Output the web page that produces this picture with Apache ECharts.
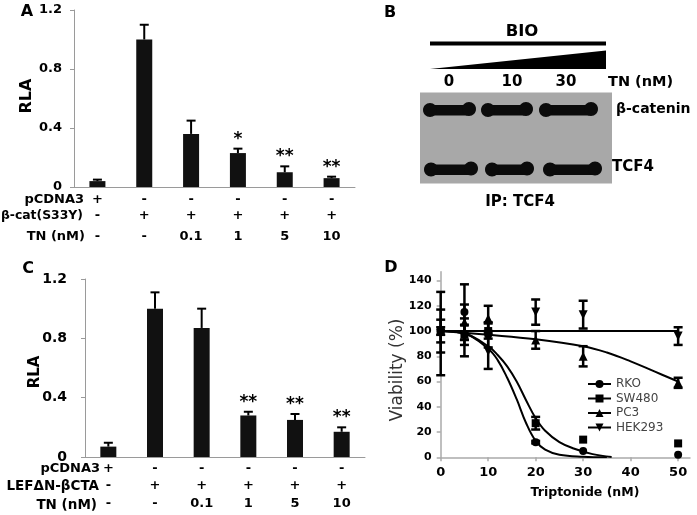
<!DOCTYPE html>
<html>
<head>
<meta charset="utf-8">
<script src="https://cdn.jsdelivr.net/npm/echarts@6/dist/echarts.min.js"></script>
<style>
html,body{margin:0;padding:0;background:#fff}
#main{width:697px;height:515px}
</style>
</head>
<body>
<div id="main"></div>
<script>
// A: RLA with beta-cat(S33Y)
var aRla = [0.04, 1.00, 0.36, 0.23, 0.10, 0.06];
var aErr = [0.01, 0.10, 0.09, 0.03, 0.04, 0.01];
var aSig = ['', '', '', '*', '**', '**'];
var aPcdna = ['+', '-', '-', '-', '-', '-'];
var aBcat = ['-', '+', '+', '+', '+', '+'];
var aTn = ['-', '-', '0.1', '1', '5', '10'];

// C: RLA with LEFdN-bCTA
var cRla = [0.07, 1.00, 0.87, 0.28, 0.25, 0.17];
var cErr = [0.026, 0.11, 0.13, 0.025, 0.04, 0.03];
var cSig = ['', '', '', '**', '**', '**'];
var cPcdna = ['+', '-', '-', '-', '-', '-'];
var cLef = ['-', '+', '+', '+', '+', '+'];
var cTn = ['-', '-', '0.1', '1', '5', '10'];

// B: blot lanes
var bioDoses = ['0', '10', '30'];

// D: viability
var dDose = [0, 5, 10, 20, 30, 50];
var rkoVia = [100, 115, 97, 12, 5, 2];
var rkoErr = [17, 22, 10, 1, 0, 0];
var swVia = [100, 97, 100, 27, 14, 11];
var swErr = [9, 8, 6, 5, 0, 0];
var pc3Via = [100, 107, 110, 93, 80, 59];
var pc3Err = [3, 14, 10, 7, 8, 4];
var hekVia = [98, 95, 84, 115, 113, 96];
var hekErr = [33, 15, 14, 10, 11, 7];

// fitted curves
var rkoFitX = [0, 5, 10, 12, 14, 16, 18, 20, 22, 25, 30, 35];
var rkoFitY = [100, 98, 86, 77, 63, 46, 27, 13, 6, 2, 0.4, 0];
var swFitX = [0, 5, 10, 12, 14, 16, 18, 20, 22, 25, 28, 32, 36];
var swFitY = [100, 98, 88, 81, 72, 60, 45, 31, 21, 12, 7, 2.5, 0.3];
var pc3FitX = [0, 10, 20, 30, 35, 40, 45, 50];
var pc3FitY = [100, 97, 93.5, 88, 83, 76, 68, 60];
var hekFitX = [0, 50];
var hekFitY = [100, 100];

function fb(s){ return 'bold ' + s + 'px "DejaVu Sans"'; }
function txt(x, y, s, font, align, rot, color){
	return {
		type: 'text', x: x, y: y, rotation: rot || 0,
		style: {
			text: s, font: font, fill: color || '#000',
			align: align || 'center', textAlign: align || 'center',
			verticalAlign: 'middle', textVerticalAlign: 'middle'
		}
	};
}
function pairs(xs, ys){
	return xs.map(function(x, i){ return [x, ys[i]]; });
}

// one-sided error bar + significance stars
function barErr(sig){
	return function(params, api){
		var i = api.value(0), v = api.value(1), e = api.value(2);
		var b = api.coord([i, v]), t = api.coord([i, v + e]);
		var ch = [
			{type:'line', shape:{x1:b[0], y1:b[1], x2:t[0], y2:t[1]}, style:{stroke:'#000', lineWidth:2}},
			{type:'line', shape:{x1:t[0]-4.5, y1:t[1], x2:t[0]+4.5, y2:t[1]}, style:{stroke:'#000', lineWidth:2}}
		];
		if (sig[params.dataIndex]) {
			ch.push({type:'text', style:{text:sig[params.dataIndex], x:t[0], y:t[1]-1,
				align:'center', textAlign:'center', verticalAlign:'bottom', textVerticalAlign:'bottom',
				font:fb(17), fill:'#000'}});
		}
		return {type:'group', children:ch};
	};
}
// symmetric error bar
function symErr(params, api){
	var x = api.value(0), v = api.value(1), e = api.value(2);
	if (!e) return;
	var lo = api.coord([x, v - e]), hi = api.coord([x, v + e]);
	var s = {stroke:'#000', lineWidth:2.5};
	return {type:'group', children:[
		{type:'line', shape:{x1:lo[0], y1:lo[1], x2:hi[0], y2:hi[1]}, style:s},
		{type:'line', shape:{x1:hi[0]-4.5, y1:hi[1], x2:hi[0]+4.5, y2:hi[1]}, style:s},
		{type:'line', shape:{x1:lo[0]-4.5, y1:lo[1], x2:lo[0]+4.5, y2:lo[1]}, style:s}
	]};
}
function errData(xs, ys, es){
	return xs.map(function(x, i){ return [x, ys[i], es[i]]; });
}

function rowLabels(r1, r2, r3, lh){
	var st = function(h){ return {fontFamily:'DejaVu Sans', fontWeight:'bold', fontSize:13, lineHeight:h, color:'#000'}; };
	return {
		interval: 0, margin: lh[3], color: '#000',
		formatter: function(v, i){
			return '{a|' + r1[i] + '}\n{b|' + r2[i] + '}\n{c|' + r3[i] + '}';
		},
		rich: {a: st(lh[0]), b: st(lh[1]), c: st(lh[2])}
	};
}

var grayAx = {lineStyle:{color:'#9a9a9a', width:1}};
var cats = [0, 1, 2, 3, 4, 5];

// blot bands
function band(x1, x2, cy){
	var st = {fill:'#0b0b0b'};
	return [
		{type:'rect', shape:{x:x1+5, y:cy-5, width:x2-x1-10, height:10.5, r:4}, style:st},
		{type:'ellipse', shape:{cx:x1+7, cy:cy, rx:7, ry:7}, style:st},
		{type:'ellipse', shape:{cx:x2-7, cy:cy-1, rx:7, ry:7}, style:st}
	];
}
var laneX = [[423, 476], [481, 533], [539, 598]];
var laneX2 = [[424, 478], [485, 534], [543, 602]];
var doseX = [449, 512, 566];

var graphics = [
	txt(27, 12, 'A', fb(16)),
	txt(27, 96, 'RLA', fb(16), 'center', Math.PI/2),
	txt(84, 200, 'pCDNA3', fb(13), 'right'),
	txt(83, 216, 'β-cat(S33Y)', fb(12.4), 'right'),
	txt(85, 237, 'TN (nM)', fb(13), 'right'),

	txt(390, 13, 'B', fb(16)),
	txt(522, 32, 'BIO', fb(16.5)),
	{type:'rect', shape:{x:430, y:41.5, width:176, height:4}, style:{fill:'#000'}},
	{type:'polygon', shape:{points:[[430, 69], [606, 69], [606, 50.5]]}, style:{fill:'#000'}},
	txt(608, 82, 'TN (nM)', fb(14.5), 'left'),
	{type:'rect', shape:{x:420, y:92.5, width:192, height:91}, style:{fill:'#a8a8a8'}},
	txt(616, 109, 'β-catenin', fb(14), 'left'),
	txt(612, 167, 'TCF4', fb(15), 'left'),
	txt(520, 202, 'IP: TCF4', fb(15)),

	txt(28, 269, 'C', fb(16)),
	txt(35, 372, 'RLA', fb(15), 'center', Math.PI/2),
	txt(100, 469, 'pCDNA3', fb(13), 'right'),
	txt(99, 486, 'LEFΔN-βCTA', fb(13.5), 'right'),
	txt(97, 505, 'TN (nM)', fb(13.5), 'right'),

	txt(391, 268, 'D', fb(16)),
	txt(398, 370, 'Viability (%)', '17px "DejaVu Sans"', 'center', Math.PI/2, '#333'),
	txt(585, 493, 'Triptonide (nM)', fb(12.5))
];
bioDoses.forEach(function(d, i){ graphics.push(txt(doseX[i], 82, d, fb(15))); });
laneX.forEach(function(l){ graphics = graphics.concat(band(l[0], l[1], 110)); });
laneX2.forEach(function(l){ graphics = graphics.concat(band(l[0], l[1], 169.5)); });

function fitLine(name, xs, ys, sym, rot){
	return {type:'line', name:name, xAxisIndex:2, yAxisIndex:2, data:pairs(xs, ys),
		smooth:0.4, showSymbol:false, symbol:sym, symbolRotate:rot || 0,
		lineStyle:{color:'#000', width:2}, itemStyle:{color:'#000'}};
}
function pts(xs, ys, sym, size, rot){
	return {type:'scatter', xAxisIndex:2, yAxisIndex:2, symbol:sym, symbolSize:size, symbolRotate:rot || 0,
		itemStyle:{color:'#000', opacity:1}, data:pairs(xs, ys), z:4};
}

var chart = echarts.init(document.getElementById('main'));
chart.setOption({
	animation: false,
	backgroundColor: '#fff',
	textStyle: {fontFamily: 'DejaVu Sans'},
	grid: [
		{left:74, top:10, width:281, height:177, outerBoundsMode:'none', containLabel:false},
		{left:85, top:279, width:280, height:178, outerBoundsMode:'none', containLabel:false},
		{left:440.7, top:271.7, width:249.3, height:185.6, outerBoundsMode:'none', containLabel:false}
	],
	xAxis: [
		{gridIndex:0, type:'category', data:cats, axisLine:grayAx,
			axisTick:{length:5, lineStyle:{color:'#9a9a9a'}},
			axisLabel: rowLabels(aPcdna, aBcat, aTn, [16, 16, 26, 5])},
		{gridIndex:1, type:'category', data:cats, axisLine:grayAx,
			axisTick:{length:5, lineStyle:{color:'#9a9a9a'}},
			axisLabel: rowLabels(cPcdna, cLef, cTn, [17, 17, 19, 3.5])},
		{gridIndex:2, type:'value', min:0, max:52.5, interval:10, splitLine:{show:false},
			axisLine:{lineStyle:{color:'#aaa', width:1.5}},
			axisTick:{length:4, customValues:[0, 10, 20, 30, 40, 50], lineStyle:{color:'#aaa', width:1.5}},
			axisLabel:{customValues:[0, 10, 20, 30, 40, 50], margin:9, color:'#000',
				fontFamily:'DejaVu Sans', fontWeight:'bold', fontSize:13}}
	],
	yAxis: [
		{gridIndex:0, type:'value', min:0, max:1.2, interval:0.4, splitLine:{show:false},
			axisLine:{show:true, lineStyle:{color:'#9a9a9a'}},
			axisTick:{show:true, length:4, lineStyle:{color:'#9a9a9a'}},
			axisLabel:{margin:12, color:'#000', fontFamily:'DejaVu Sans', fontWeight:'bold', fontSize:13}},
		{gridIndex:1, type:'value', min:0, max:1.2, interval:0.4, splitLine:{show:false},
			axisLine:{show:true, lineStyle:{color:'#9a9a9a'}},
			axisTick:{show:true, length:4, lineStyle:{color:'#9a9a9a'}},
			axisLabel:{margin:18, color:'#000', fontFamily:'DejaVu Sans', fontWeight:'bold', fontSize:14}},
		{gridIndex:2, type:'value', min:0, max:147, interval:20, splitLine:{show:false},
			axisLine:{show:true, lineStyle:{color:'#aaa', width:1.5}},
			axisTick:{show:true, length:4, customValues:[0, 20, 40, 60, 80, 100, 120, 140], lineStyle:{color:'#aaa', width:1.5}},
			axisLabel:{customValues:[0, 20, 40, 60, 80, 100, 120, 140], margin:9, color:'#000',
				fontFamily:'DejaVu Sans', fontWeight:'bold', fontSize:11}}
	],
	legend: {
		data: ['RKO', 'SW480', 'PC3', 'HEK293'],
		orient: 'vertical', left: 587, top: 378, padding: 0,
		itemWidth: 23, itemHeight: 10, itemGap: 2.5,
		textStyle: {fontFamily:'DejaVu Sans', fontSize:12, lineHeight:12, color:'#444'}
	},
	graphic: {elements: graphics},
	series: [
		{type:'bar', xAxisIndex:0, yAxisIndex:0, data:aRla, barWidth:16, itemStyle:{color:'#111'}},
		{type:'custom', xAxisIndex:0, yAxisIndex:0, renderItem:barErr(aSig),
			data:errData(cats, aRla, aErr), encode:{x:0, y:1}, z:3},
		{type:'bar', xAxisIndex:1, yAxisIndex:1, data:cRla, barWidth:16, itemStyle:{color:'#111'}},
		{type:'custom', xAxisIndex:1, yAxisIndex:1, renderItem:barErr(cSig),
			data:errData(cats, cRla, cErr), encode:{x:0, y:1}, z:3},

		{type:'custom', xAxisIndex:2, yAxisIndex:2, renderItem:symErr, data:errData(dDose, rkoVia, rkoErr), encode:{x:0, y:1}},
		{type:'custom', xAxisIndex:2, yAxisIndex:2, renderItem:symErr, data:errData(dDose, swVia, swErr), encode:{x:0, y:1}},
		{type:'custom', xAxisIndex:2, yAxisIndex:2, renderItem:symErr, data:errData(dDose, pc3Via, pc3Err), encode:{x:0, y:1}},
		{type:'custom', xAxisIndex:2, yAxisIndex:2, renderItem:symErr, data:errData(dDose, hekVia, hekErr), encode:{x:0, y:1}},

		pts(dDose, rkoVia, 'circle', 8),
		pts(dDose, swVia, 'rect', 8),
		pts(dDose, pc3Via, 'triangle', 9),
		pts(dDose, hekVia, 'triangle', 9, 180),

		fitLine('RKO', rkoFitX, rkoFitY, 'circle'),
		fitLine('SW480', swFitX, swFitY, 'rect'),
		fitLine('PC3', pc3FitX, pc3FitY, 'triangle'),
		fitLine('HEK293', hekFitX, hekFitY, 'triangle', 180)
	]
});
</script>
</body>
</html>
